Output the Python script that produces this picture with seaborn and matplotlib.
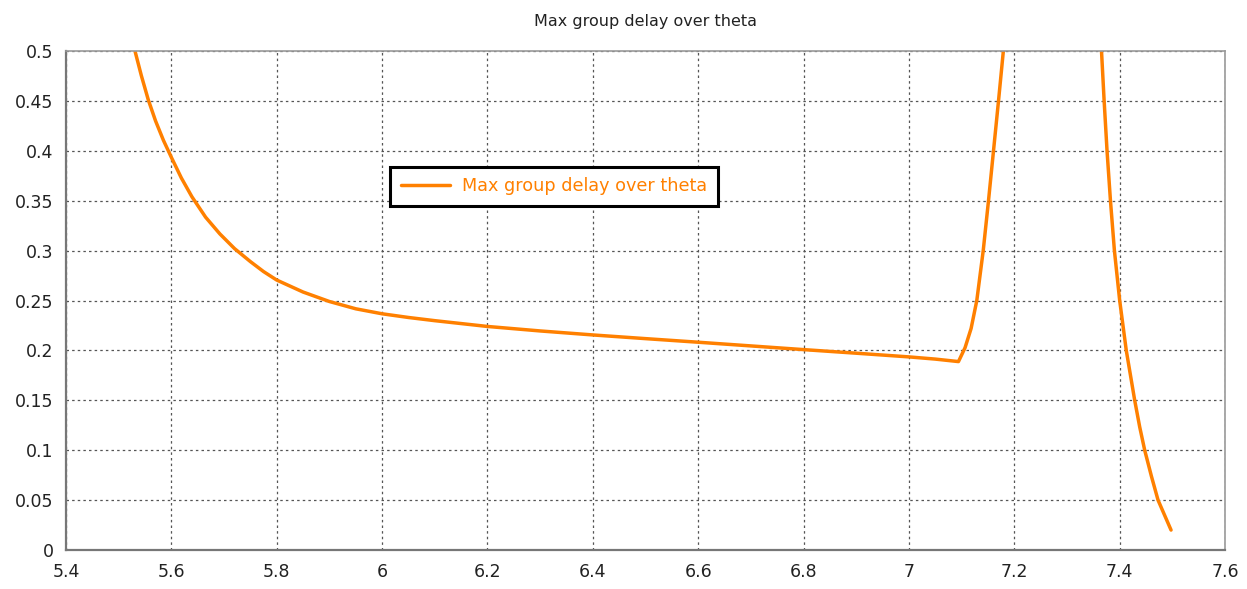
import matplotlib
matplotlib.use("Agg")
import matplotlib.pyplot as plt
import seaborn as sns
import pandas as pd

# Left branch (decreasing, slowly falling to the kink, then rising past the top)
theta_a = [5.531, 5.543, 5.556, 5.570, 5.585, 5.600, 5.619, 5.639, 5.665, 5.692, 5.720,
           5.750, 5.775, 5.800, 5.850, 5.900, 5.950, 6.000, 6.050, 6.100, 6.200, 6.300,
           6.400, 6.500, 6.600, 6.700, 6.800, 6.900, 7.000, 7.050, 7.094,
           7.1065, 7.118, 7.1288, 7.141, 7.151, 7.1605, 7.170, 7.1792]
delay_a = [0.500, 0.4755, 0.4515, 0.430, 0.4105, 0.3935, 0.3728, 0.3540, 0.3335, 0.3168,
           0.3020, 0.2890, 0.2790, 0.2705, 0.2585, 0.2490, 0.2417, 0.2367, 0.2330, 0.2298,
           0.2240, 0.2195, 0.2155, 0.2118, 0.2082, 0.2045, 0.2008, 0.1972, 0.1935, 0.1913,
           0.1888, 0.2027, 0.222, 0.250, 0.300, 0.350, 0.400, 0.450, 0.500]

# Right branch (falling back down after the peak)
theta_b = [7.3655, 7.3705, 7.376, 7.3825, 7.390, 7.400, 7.4125, 7.4285, 7.438, 7.4475,
           7.4601, 7.4728, 7.4975]
delay_b = [0.500, 0.450, 0.400, 0.350, 0.300, 0.250, 0.200, 0.150, 0.1233, 0.100,
           0.0742, 0.050, 0.020]

xticks = [5.4, 5.6, 5.8, 6.0, 6.2, 6.4, 6.6, 6.8, 7.0, 7.2, 7.4, 7.6]
xtick_labels = ["5.4", "5.6", "5.8", "6", "6.2", "6.4", "6.6", "6.8", "7", "7.2", "7.4", "7.6"]
yticks = [0, 0.05, 0.1, 0.15, 0.2, 0.25, 0.3, 0.35, 0.4, 0.45, 0.5]
ytick_labels = ["0", "0.05", "0.1", "0.15", "0.2", "0.25", "0.3", "0.35", "0.4", "0.45", "0.5"]

series_name = "Max group delay over theta"
color = "#FF8000"

sns.set_style("white")
plt.rcParams['font.family'] = ['DejaVu Sans']

fig = plt.figure(figsize=(12.47, 5.89), dpi=100)
ax = fig.add_axes([0.0529, 0.0662, 0.9295, 0.8472])

df_a = pd.DataFrame({"theta": theta_a, "delay": delay_a})
df_b = pd.DataFrame({"theta": theta_b, "delay": delay_b})
sns.lineplot(data=df_a, x="theta", y="delay", color=color, linewidth=2.5, ax=ax,
             label=series_name, sort=False)
sns.lineplot(data=df_b, x="theta", y="delay", color=color, linewidth=2.5, ax=ax,
             sort=False)

ax.set_xlim(5.4, 7.6)
ax.set_ylim(0, 0.5)
ax.set_xticks(xticks)
ax.set_xticklabels(xtick_labels)
ax.set_yticks(yticks)
ax.set_yticklabels(ytick_labels)
ax.set_xlabel("")
ax.set_ylabel("")

ax.grid(True, color="#555555", linestyle=(0, (2, 2.5)), linewidth=0.9)
ax.set_axisbelow(True)

for s in ["left", "bottom"]:
    ax.spines[s].set_color("#777777")
    ax.spines[s].set_linewidth(1.6)
for s in ["top", "right"]:
    ax.spines[s].set_color("#999999")
    ax.spines[s].set_linewidth(1.2)

ax.tick_params(axis="both", which="major", direction="out", length=5, width=1,
               color="#777777", labelsize=12.5, labelcolor="#222222", pad=4)

ax.set_title(series_name, fontsize=11.5, color="#222222", pad=18)

leg = ax.legend(loc="upper left", bbox_to_anchor=(0.2796, 0.768), frameon=True,
                fancybox=False, fontsize=12.7, handlelength=2.8, borderpad=0.6,
                handletextpad=0.7, borderaxespad=0)
leg.get_frame().set_edgecolor("black")
leg.get_frame().set_linewidth(2.2)
leg.get_frame().set_alpha(1)
for t in leg.get_texts():
    t.set_color(color)

fig.savefig("out.png", dpi=100)
